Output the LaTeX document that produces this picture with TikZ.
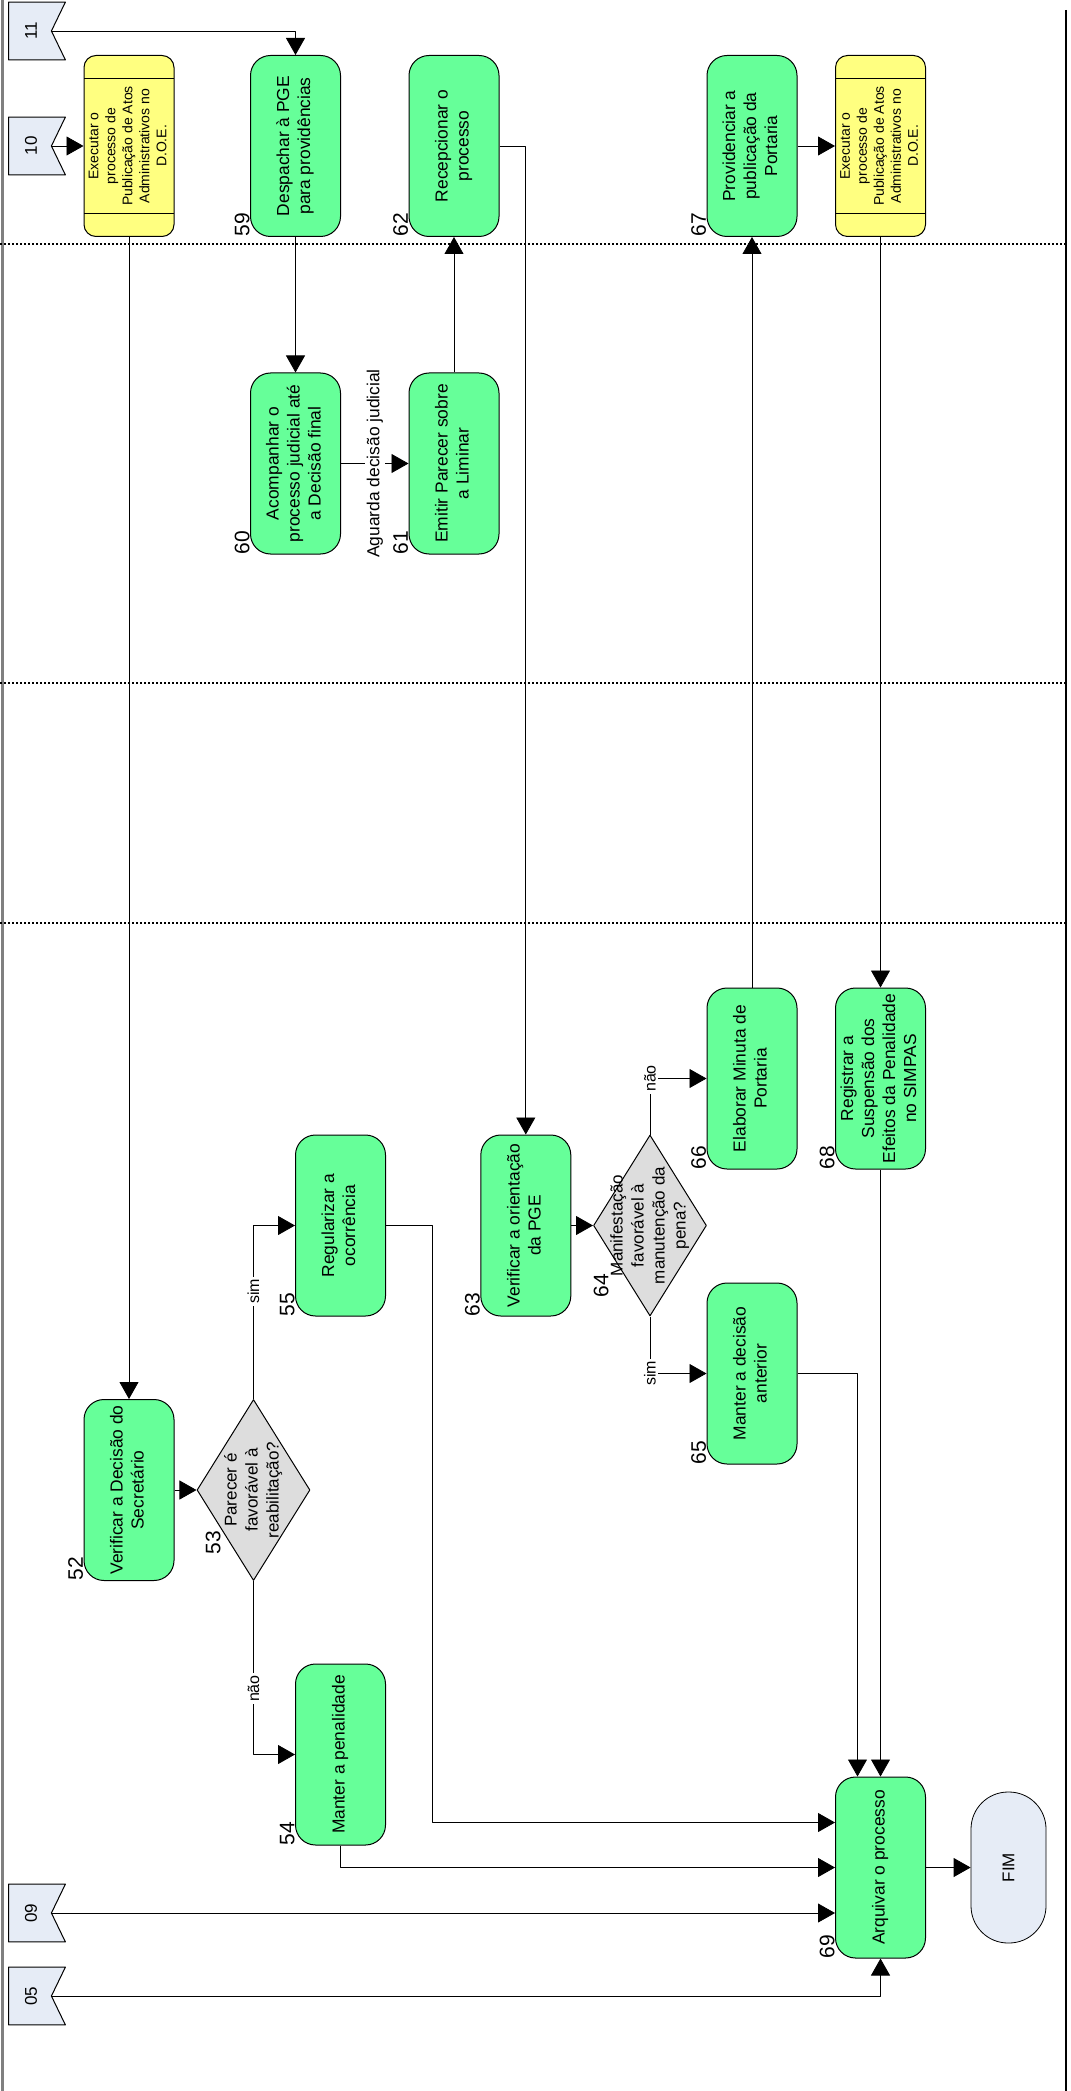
\documentclass[tikz,border=0pt]{standalone}
\usepackage{fontspec}
\setmainfont{Liberation Sans}
\usepackage{graphicx}
\usetikzlibrary{arrows.meta,shapes.geometric}

\definecolor{taskgreen}{RGB}{102,255,153}
\definecolor{subyellow}{RGB}{255,255,128}
\definecolor{decgray}{RGB}{221,221,221}
\definecolor{pageblue}{RGB}{230,236,246}

% rotated multi-line text
\newcommand{\vt}[1]{\rotatebox{90}{\begin{tabular}{@{}c@{}}#1\end{tabular}}}

% off-page connector: name, position, number
\newcommand{\offpage}[3]{%
  \node[pagebox] (#1) at (#2) {};
  \draw[pageline] (#1.north west) -- (#1.north east) -- ([xshift=-7pt]#1.east) coordinate (#1n)
    -- (#1.south east) -- (#1.south west) -- cycle;
  \node[pagetext] (#1t) at ([xshift=-3pt]#1.center) {#3};}

\tikzset{
  task/.style={draw, fill=taskgreen, rounded corners=10pt, minimum width=45pt,
    minimum height=90.5pt, inner sep=0pt, line width=0.5pt, font=\fontsize{8.7}{10.5}\selectfont},
  sub/.style={task, fill=subyellow, rounded corners=6pt, font=\fontsize{7}{8.5}\selectfont,
    path picture={
      \draw ([yshift=-11.5pt]path picture bounding box.north west) -- ([yshift=-11.5pt]path picture bounding box.north east);
      \draw ([yshift=11.5pt]path picture bounding box.south west) -- ([yshift=11.5pt]path picture bounding box.south east);}},
  dec/.style={diamond, draw, fill=decgray, aspect=0.62, minimum width=56.5pt,
    minimum height=90.5pt, inner sep=0pt, line width=0.5pt},
  dectext/.style={inner sep=0pt, font=\fontsize{8.5}{10.5}\selectfont},
  term/.style={draw, fill=pageblue, rounded corners=18.5pt, minimum width=37.5pt,
    minimum height=75.5pt, inner sep=0pt, font=\fontsize{8.5}{10.5}\selectfont},
  pagebox/.style={minimum width=28pt, minimum height=28.5pt, inner sep=0pt},
  pageline/.style={draw, fill=pageblue, line width=0.5pt},
  pagetext/.style={rotate=90, inner sep=0pt, font=\fontsize{8.5}{10}\selectfont},
  num/.style={rotate=90, anchor=south west, inner sep=0pt, font=\fontsize{10.5}{12}\selectfont},
  lbl/.style={rotate=90, fill=white, inner sep=1pt, font=\fontsize{8}{9.6}\selectfont},
  lane/.style={line width=0.9pt, dash pattern=on 1pt off 1pt}
}

\begin{document}
\begin{tikzpicture}[x=0.5pt, y=-0.5pt, >={Triangle[length=8.5pt,width=9.5pt]}, line join=round]
  \useasboundingbox (0,0) rectangle (1070,2091);
  % lanes
  \draw[gray, line width=1.5pt] (2,0) -- (2,2091);
  \draw[line width=0.8pt] (1066,10) -- (1066,2091);
  \foreach \y in {244,683,923}
    \draw[lane] (0,\y) -- (1066,\y);

  % off-page connectors
  \offpage{f11}{37,31}{11}
  \offpage{f10}{37,146}{10}
  \offpage{f09}{37,1913}{09}
  \offpage{f05}{37,1996}{05}

  % top lane
  \node[sub] (y1) at (129,146) {\vt{Executar o\\processo de\\Publicação de Atos\\Administrativos no\\D.O.E.}};
  \node[task] (d59) at (295.5,146) {\vt{Despachar à PGE\\para providências}};
  \node[task] (d62) at (454,146) {\vt{Recepcionar o\\processo}};
  \node[task] (d67) at (752,146) {\vt{Providenciar a\\publicação da\\Portaria}};
  \node[sub] (y2) at (880.5,146) {\vt{Executar o\\processo de\\Publicação de Atos\\Administrativos no\\D.O.E.}};

  % second lane
  \node[task] (d60) at (295.5,463.5) {\vt{Acompanhar o\\processo judicial até\\a Decisão final}};
  \node[task] (d61) at (454,463.5) {\vt{Emitir Parecer sobre\\a Liminar}};

  % bottom lane
  \node[task] (d52) at (129,1490) {\vt{Verificar a Decisão do\\Secretário}};
  \node[dec, label={[dectext]center:\vt{Parecer é\\favorável à\\reabilitação?}}] (d53) at (253.5,1490) {};
  \node[task] (d55) at (340.5,1225.5) {\vt{Regularizar a\\ocorrência}};
  \node[task] (d54) at (340.5,1754.5) {\vt{Manter a penalidade}};
  \node[task] (d63) at (525.8,1225.5) {\vt{Verificar a orientação\\da PGE}};
  \node[dec, label={[dectext]center:\vt{Manifestação\\favorável à\\manutenção da\\pena?}}] (d64) at (650,1225.5) {};
  \node[task] (d66) at (752,1078.5) {\vt{Elaborar Minuta de\\Portaria}};
  \node[task] (d65) at (752,1373.5) {\vt{Manter a decisão\\anterior}};
  \node[task] (d68) at (880.5,1078.5) {\vt{Registrar a\\Suspensão dos\\Efeitos da Penalidade\\no SIMPAS}};
  \node[task] (d69) at (880.5,1867.5) {\vt{Arquivar o processo}};
  \node[term] (fim) at (1008.5,1867.5) {\rotatebox{90}{FIM}};

  % step numbers
  \node[num] (n59) at (d59.south west) {59};
  \node[num] (n62) at (d62.south west) {62};
  \node[num] (n67) at (d67.south west) {67};
  \node[num] (n60) at (d60.south west) {60};
  \node[num] (n61) at (d61.south west) {61};
  \node[num] (n52) at (d52.south west) {52};
  \node[num] (n53) at (221,1555) {53};
  \node[num] (n55) at (d55.south west) {55};
  \node[num] (n54) at (d54.south west) {54};
  \node[num] (n63) at (d63.south west) {63};
  \node[num] (n64) at (609,1298) {64};
  \node[num] (n66) at (d66.south west) {66};
  \node[num] (n65) at (d65.south west) {65};
  \node[num] (n68) at (d68.south west) {68};
  \node[num] (n69) at (d69.south west) {69};

  % connectors
  \draw[->] (f11n) -| (d59);
  \draw[->] (f10n) -- (y1);
  \draw[->] (y1) -- (d52);
  \draw[->] (d59) -- (d60);
  \draw[->] (d60) -- node[lbl, font=\fontsize{8.7}{10}\selectfont]{Aguarda decisão judicial} (d61);
  \draw[->] (d61) -- (d62);
  \draw[->] (d62) -| (d63);
  \draw[->] (d63) -- (d64);
  \draw[->] (d64) |- node[lbl]{não} (d66);
  \draw[->] (d64) |- node[lbl]{sim} (d65);
  \draw[->] (d66) -- (d67);
  \draw[->] (d67) -- (y2);
  \draw[->] (y2) -- (d68);
  \draw[->] (d68) -- (d69);
  \draw[->] (d65) -| ([xshift=-11.5pt]d69.north);
  \draw[->] (d52) -- (d53);
  \draw[->] (d53) |- node[lbl, pos=0.31]{sim} (d55);
  \draw[->] (d53) |- node[lbl, pos=0.31]{não} (d54);
  \draw[->] (d55.east) -- ++(46,0) |- ([yshift=22.5pt]d69.west);
  \draw[->] (d54) |- (d69);
  \draw[->] (f09n) -- (f09n -| d69.west);
  \draw[->] (f05n) -| (d69);
  \draw[->] (d69) -- (fim);
\end{tikzpicture}
\end{document}
